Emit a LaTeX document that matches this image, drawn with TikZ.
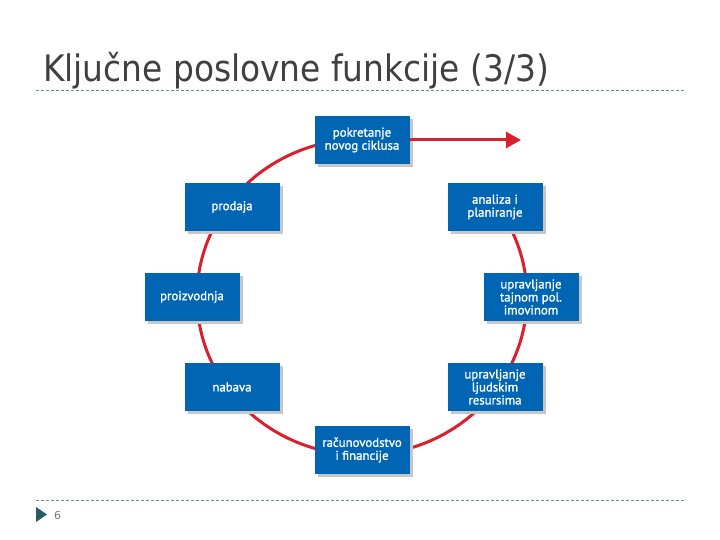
\documentclass[tikz,border=0pt]{standalone}
\usepackage{fontspec}
\setmainfont{DejaVu Sans}
\newfontfamily\boxfont[FakeBold=1.2]{PT Sans}
\newfontfamily\titlefont{DejaVu Sans Condensed}
\usetikzlibrary{shadows,arrows.meta}
\definecolor{boxblue}{RGB}{0,102,179}
\definecolor{cycred}{RGB}{218,32,44}
\definecolor{dashcol}{RGB}{110,145,150}
\definecolor{tricol}{RGB}{38,92,100}
\definecolor{titlecol}{RGB}{64,64,64}
\tikzset{
  fbox/.style={draw=none,fill=boxblue,text=white,minimum width=95pt,minimum height=48pt,
    inner sep=1pt,align=center,font=\boxfont\fontsize{12.8}{13}\selectfont,
    drop shadow={shadow xshift=3pt,shadow yshift=-3pt,fill=black!22,opacity=1}},
  cyc/.style={draw=cycred,line width=3pt},
  sep/.style={draw=dashcol,dashed,line width=0.7pt,dash pattern=on 3pt off 2pt}
}
\begin{document}
\begin{tikzpicture}[x=1pt,y=1pt]
\useasboundingbox[fill=white] (0,0) rectangle (720,-540);
% title
\node[anchor=base west,inner sep=0,text=titlecol,font=\titlefont\fontsize{36.5}{40}\selectfont] (title) at (43,-82) {Ključne poslovne funkcije (3/3)};
\draw[sep] (36,-90) -- (686,-90);
\draw[sep] (36,-500) -- (686,-500);
\fill[tricol] (36,-507) -- (47,-514.5) -- (36,-522) -- cycle;
\node[anchor=base west,inner sep=0,text=titlecol!70,font=\fontsize{11}{12}\selectfont] (pg) at (54,-519) {6};
% cycle arc
\coordinate (c) at (362,-297);
\draw[cyc] (c) ++(95:165 and 158) arc[start angle=95,end angle=390,x radius=165pt,y radius=158pt];
% boxes
\node[fbox] (pok) at (362,-140) {pokretanje\\novog ciklusa};
\node[fbox] (ana) at (495,-207) {analiza i\\planiranje};
\node[fbox] (taj) at (531,-297) {upravljanje\\tajnom pol.\\imovinom};
\node[fbox] (ljud) at (495,-387) {upravljanje\\ljudskim\\resursima};
\node[fbox] (rac) at (362,-450) {računovodstvo\\i financije};
\node[fbox] (nab) at (232,-387) {nabava};
\node[fbox] (pro) at (192,-297) {proizvodnja};
\node[fbox] (prod) at (232,-207) {prodaja};
\coordinate (aend) at (521,-140);
\draw[cyc,-{Triangle[length=15pt,width=16pt]}] (pok.east) -- (aend);
\end{tikzpicture}
\end{document}
